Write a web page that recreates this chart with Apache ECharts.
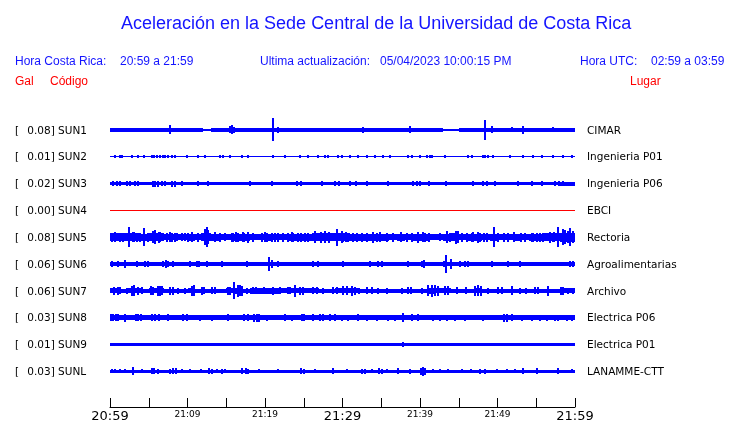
<!DOCTYPE html>
<html><head><meta charset="utf-8">
<script src="https://cdn.jsdelivr.net/npm/echarts@6/dist/echarts.min.js"></script>
<style>html,body{margin:0;padding:0;background:#fff}#c{width:740px;height:423px}</style>
</head><body><div id="c"></div><script>
// ---------- data ----------
const tickLabels = ['20:59','21:04','21:09','21:14','21:19','21:24','21:29','21:34','21:39','21:44','21:49','21:54','21:59'];
const stationCodes = ['SUN1','SUN2','SUN3','SUN4','SUN5','SUN6','SUN7','SUN8','SUN9','SUNL'];
const peakGal = ['0.08','0.01','0.02','0.00','0.08','0.06','0.06','0.03','0.01','0.03'];
const places = ['CIMAR','Ingenieria P01','Ingenieria P06','EBCI','Rectoria','Agroalimentarias','Archivo','Electrica P06','Electrica P01','LANAMME-CTT'];

// envelope half-amplitude per minute (body) and short bursts [minute, half-amplitude]
const sun1Body = [1.7,1.7,1.7,1.7,1.7,1.7,1.7,1.7,1.7,1.7, 1.7,1.7,0.9,1.7,1.7,1.7,1.7,1.7,1.7,1.7, 1.7,1.7,1.7,1.7,1.7,1.7,1.7,1.7,1.7,1.7, 1.7,1.7,1.7,1.7,1.7,1.7,1.7,1.7,1.7,1.7, 1.7,1.7,1.7,0.9,0.9,1.7,1.7,1.7,1.7,1.7, 1.7,1.7,1.7,1.7,1.7,1.7,1.7,1.7,1.8,1.8];
const sun1Peaks = [[1.85,2.3],[6.0,2],[7.7,4.5],[8.9,2.3],[9.7,2],[10.3,2],[13.1,2],[14.4,2],[15.5,3.5],[15.8,4.5],[16.0,3],[19.0,2],[21.07,11.5],[21.7,3],[22.8,2],[24.1,2],[26.2,2],[29.0,1.8],[31.2,2.2],[31.6,2.2],[32.6,3],[36.6,2],[38.7,3.5],[41.3,2],[48.4,10],[49.3,3.5],[51.9,2.5],[53.3,4],[55.9,2],[57.1,2.5],[59.4,2.2]];

const sun2Body = [0.5,0.5,0.5,0.5,0.5,0.5,0.5,0.5,0.5,0.5, 0.5,0.5,0.5,0.5,0.5,0.5,0.5,0.5,0.5,0.5, 0.5,0.5,0.5,0.5,0.5,0.5,0.5,0.5,0.5,0.5, 0.5,0.5,0.5,0.5,0.5,0.5,0.5,0.5,0.5,0.5, 0.5,0.5,0.5,0.5,0.5,0.5,0.5,0.5,0.5,0.5, 0.5,0.5,0.5,0.5,0.5,0.5,0.5,0.5,0.5,0.5];
const sun2Peaks = [[0.65,1.7],[1.29,1.7],[1.5,1.7],[2.8,1.7],[3.65,1.7],[4.43,1.7],[5.38,1.7],[5.7,1.7],[6.02,1.7],[6.45,1.7],[6.88,1.7],[7.1,1.7],[7.53,1.7],[7.96,1.7],[8.39,1.7],[9.89,1.7],[11.4,1.7],[12.26,1.7],[14.19,1.7],[14.62,1.7],[15.48,1.7],[16.99,1.7],[17.85,1.7],[21.07,1.7],[22.58,1.7],[24.52,1.7],[25.59,1.7],[26.88,1.7],[27.74,1.7],[28.17,1.7],[29.46,1.7],[29.9,1.7],[30.97,1.7],[32.05,1.7],[33.12,1.7],[34.2,1.7],[35.27,1.7],[36.13,1.7],[38.5,1.7],[38.93,1.7],[40.0,1.7],[40.86,1.7],[41.29,1.7],[41.51,1.7],[43.23,1.7],[46.24,1.7],[46.67,1.7],[48.09,1.7],[48.39,1.7],[48.82,1.7],[49.46,1.7],[51.62,1.7],[53.25,1.7],[54.63,1.7],[55.79,1.7],[57.21,1.7],[58.41,1.7],[59.57,1.7]];

const sun3Body = [1.7,1.7,1.7,1.7,1.7,1.7,1.7,1.7,1.7,1.7, 1.7,1.7,1.7,1.7,1.7,1.7,1.7,1.7,1.7,1.7, 1.7,1.7,1.7,1.7,1.7,1.7,1.7,1.7,1.7,1.7, 1.7,1.7,1.7,1.7,1.7,1.7,1.7,1.7,1.7,1.7, 1.7,1.7,1.7,1.7,1.7,1.7,1.7,1.7,1.7,1.7, 1.7,1.7,1.7,1.7,1.7,1.7,1.7,1.8,2.0,2.0];
const sun3Peaks = [[0.4,2.7],[0.85,2.7],[1.3,2.7],[2.15,2.7],[2.6,2.5],[3.2,2.5],[3.65,2.5],[5.6,3],[5.8,3],[6.2,3],[6.7,2.7],[7.1,2.7],[8.0,3],[8.4,3],[9.3,2.5],[11.4,2.3],[12.7,2.3],[18.1,2.3],[20.9,2.3],[24.1,2.3],[24.7,2.7],[27.3,2.3],[29.0,2.3],[29.5,2.3],[31.0,2.5],[31.8,2.3],[33.1,2.5],[35.9,2.3],[39.1,2.5],[39.6,2.5],[40.0,2.5],[41.1,2.3],[43.4,2.5],[46.9,2.3],[48.1,2.5],[48.6,2.3],[49.7,2.5],[52.7,2.3],[54.5,2.5],[55.8,2.5],[57.4,2.5],[57.9,2.5],[58.4,2.5]];

const sun4Body = [0,0,0,0,0,0,0,0,0,0, 0,0,0,0,0,0,0,0,0,0, 0,0,0,0,0,0,0,0,0,0, 0,0,0,0,0,0,0,0,0,0, 0,0,0,0,0,0,0,0,0,0, 0,0,0,0,0,0,0,0,0,0];
const sun4Peaks = [];

const sun5Body = [3.8,3.8,3.8,3.8,3.6,3.8,3.8,3.3,3.3,3.3, 3.5,3.3,3.8,3.5,3.3,3.3,3.4,3.5,3.3,3.3, 3.4,3.3,3.3,3.4,3.4,3.4,4.0,4.0,4.0,4.0, 3.8,3.6,3.6,3.6,3.6,3.4,3.3,3.4,3.3,3.6, 3.4,3.1,3.1,3.6,3.8,3.3,3.4,3.6,3.3,3.6, 3.3,3.3,3.4,3.3,3.4,3.4,3.8,4.3,4.6,4.6];
const sun5Peaks = [[0.22,4.5],[0.65,4.8],[1.29,4.5],[1.72,4.5],[2.5,10],[3.0,5],[3.14,4.8],[3.44,4.5],[3.87,4.5],[4.43,9],[4.95,4.5],[5.6,6],[5.8,7],[6.3,5.5],[6.45,4.8],[7.31,4.5],[7.7,5],[7.96,4.5],[8.4,4.5],[8.6,4.3],[9.25,4.3],[9.7,4],[10.11,4.5],[10.62,5],[11.4,4.5],[11.83,4.3],[12.3,8],[12.5,10],[12.7,7],[13.55,5],[14.19,4.5],[14.84,4.3],[15.7,4.5],[15.9,4.5],[16.2,4.8],[16.56,4.5],[17.2,5],[17.33,4.5],[17.85,5.5],[18.5,4.5],[19.57,4.5],[20.0,5],[20.2,4.5],[20.86,4.5],[21.3,4.5],[21.72,4.5],[22.36,4.5],[23.01,4.5],[23.5,5],[23.66,4.5],[24.3,4.5],[24.7,4.5],[25.16,4.5],[25.59,4.5],[26.5,6],[27.2,5.5],[27.8,6],[28.3,5.5],[29.25,8.5],[29.9,6],[30.11,4.5],[30.5,5],[30.76,4.5],[31.4,4.5],[31.83,4.5],[32.48,4.5],[33.12,4.5],[33.9,5.5],[34.41,4.5],[34.8,5],[35.7,4.5],[36.56,4.5],[37.5,5],[38.28,4.5],[38.93,4.5],[39.8,5.5],[40.4,5],[40.65,4.5],[41.2,4.5],[42.58,4.3],[43.5,6],[43.87,4.5],[44.6,6.5],[44.9,6],[45.38,4.5],[46.02,4.5],[46.67,4.5],[46.9,5],[47.5,5.5],[47.74,4.5],[48.2,4.5],[48.61,4.5],[49.5,10],[50.11,4.5],[50.8,4.5],[51.4,4.5],[52.1,5],[53.0,4.5],[53.55,4.5],[54.41,4.5],[54.6,4.5],[55.06,4.5],[55.5,4.5],[55.92,4.5],[56.8,5.5],[57.21,4.5],[57.3,5],[57.8,10],[58.4,8],[58.7,7],[59.14,6],[59.4,9],[59.8,6]];

const sun6Body = [1.7,1.7,1.7,1.7,1.7,1.7,1.7,1.7,1.7,1.7, 1.7,1.7,1.7,1.7,1.7,1.7,1.7,1.7,1.7,1.7, 1.7,1.7,1.7,1.7,1.7,1.7,1.7,1.7,1.7,1.7, 1.7,1.7,1.7,1.7,1.7,1.7,1.7,1.7,1.7,1.7, 1.7,1.7,1.7,1.7,1.7,1.7,1.7,1.7,1.7,1.7, 1.7,1.7,1.7,1.7,1.7,1.7,1.7,1.7,1.8,1.8];
const sun6Peaks = [[0.2,3],[1.07,3],[1.93,4],[2.58,2.5],[3.53,3],[4.5,3],[4.95,3],[5.6,2.5],[6.0,2.5],[6.88,3.5],[7.18,4],[7.53,3],[8.17,3],[9.25,2.5],[10.32,3],[11.18,3],[11.48,3],[12.47,3],[13.33,2.5],[14.41,3],[15.27,2.5],[16.34,2.5],[17.63,3.5],[18.28,2.5],[19.14,2.5],[20.52,7],[20.86,4],[21.72,3],[22.58,2.5],[23.23,2.5],[26.24,3],[26.88,3],[27.31,2.5],[28.39,2.5],[29.03,2.5],[30.11,3],[31.19,2.5],[31.83,2],[32.35,2.5],[33.55,3.5],[34.63,3],[35.06,3],[35.49,2.5],[36.13,2.5],[37.42,2.5],[38.5,3],[40.22,3.5],[40.52,4],[41.51,2.5],[42.15,2.5],[43.1,3.5],[43.36,9],[43.96,5],[45.16,3],[45.81,3],[46.24,3.5],[47.31,2.5],[48.26,2.5],[49.25,3.5],[51.4,3.5],[52.91,3.5],[53.98,2.5],[55.27,2.5],[56.56,2.5],[58.07,2.5],[59.36,3],[59.79,3]];

const sun7Body = [2.5,2.3,2.5,2.5,2.2,2.5,2.6,2.3,2.3,2.2, 2.5,2.3,2.2,2.3,2.2,2.5,2.8,2.2,2.8,2.8, 2.8,2.8,2.7,2.5,2.6,2.5,2.5,2.2,2.3,2.5, 2.7,2.5,2.2,2.3,2.2,2.3,2.2,2.3,2.3,2.2, 2.3,2.8,2.7,2.5,2.3,2.3,2.2,2.7,2.3,2.3, 2.3,2.3,2.3,2.2,2.3,2.3,2.3,2.3,2.5,2.5];
const sun7Peaks = [[0.56,4],[0.99,4],[1.29,3.5],[2.15,3],[2.8,5],[3.05,5.5],[3.66,4],[4.09,3.5],[5.29,4.5],[5.59,4],[6.15,5],[6.45,5],[6.75,4.5],[7.74,4],[8.17,4],[8.82,3],[9.68,3],[10.62,5],[10.88,5.5],[11.83,4],[12.17,3.5],[13.12,3.5],[13.55,3.5],[15.18,4],[15.48,4],[16.04,8.5],[16.47,6],[16.77,5.5],[17.07,5],[17.63,3],[18.5,3.5],[18.8,3.5],[19.91,3.5],[21.08,4],[21.94,3.5],[22.92,3.5],[23.23,3.5],[23.87,6],[24.52,4],[24.95,4],[26.24,3.5],[26.67,3.5],[27.53,3],[28.82,3.5],[29.25,3.5],[30.11,4.5],[30.63,4.5],[31.19,5],[31.62,4],[32.17,3],[33.12,3.5],[33.77,3.5],[34.63,3],[35.7,3],[37.64,3],[38.5,3.5],[38.8,3.5],[40.22,3],[41.08,5.5],[41.51,6],[41.94,5.5],[42.37,5],[43.23,4.5],[43.66,4.5],[44.73,3.5],[45.94,3.5],[47.1,5],[47.53,5.5],[47.83,5],[48.82,3],[50.11,3.5],[50.54,3.5],[51.83,4.5],[52.91,3],[53.68,3],[54.84,3.5],[55.27,3.5],[56.56,5],[58.15,4],[58.41,4],[59.14,3],[59.7,3]];

const sun8Body = [2.5,2.5,2.5,2.5,2.5,2.5,2.5,2.5,2.5,2.5, 2.5,2.5,2.5,2.5,2.5,2.5,2.5,2.5,2.5,2.5, 2.5,2.5,2.5,2.5,2.5,2.5,2.5,2.5,2.5,2.5, 2.5,2.5,2.5,2.5,2.5,2.5,2.5,2.5,2.5,2.5, 2.5,2.5,2.5,2.5,2.5,2.5,2.5,2.5,2.5,2.5, 2.5,2.5,2.5,2.5,2.5,2.5,2.5,2.5,2.5,2.5];
const sun8Peaks = [[0.13,3.5],[0.43,3.5],[0.73,3.5],[1.07,3.5],[1.93,4],[3.31,3.5],[3.66,3.5],[4.0,3.5],[5.46,3.5],[5.81,3.5],[6.32,3.5],[7.53,3.5],[9.46,3.5],[9.89,3.5],[11.61,3],[13.12,3],[15.27,3.5],[17.33,3.5],[17.76,3.5],[18.62,4],[18.92,4],[19.23,4],[20.22,3],[22.58,3.5],[23.44,3],[24.73,3.5],[25.07,3.5],[26.24,3.5],[27.1,3.5],[27.53,3.5],[28.39,3.5],[29.03,3.5],[29.9,3],[30.76,3],[32.05,3.5],[33.12,3],[34.41,3],[35.92,3],[36.78,3],[37.85,4.5],[38.93,3.5],[39.79,3.5],[41.72,3],[42.58,3],[43.44,3],[44.52,3],[45.81,3],[48.17,3],[50.84,4],[51.19,4],[51.83,3.5],[53.12,3],[54.41,3],[55.49,3],[56.35,3],[57.42,3],[57.85,3],[58.93,3],[59.57,3]];

const sun9Body = [1.5,1.5,1.5,1.5,1.5,1.5,1.5,1.5,1.5,1.5, 1.5,1.5,1.5,1.5,1.5,1.5,1.5,1.5,1.5,1.5, 1.5,1.5,1.5,1.5,1.5,1.5,1.5,1.5,1.5,1.5, 1.5,1.5,1.5,1.5,1.5,1.5,1.5,1.5,1.5,1.5, 1.5,1.5,1.5,1.5,1.5,1.5,1.5,1.5,1.5,1.5, 1.5,1.5,1.5,1.5,1.5,1.5,1.5,1.5,1.5,1.5];
const sun9Peaks = [[3.2,1.7],[7.5,1.7],[11.0,1.7],[16.0,1.7],[20.0,1.7],[26.0,1.7],[31.0,1.7],[34.5,1.7],[37.85,2.5],[41.5,1.7],[44.0,1.7],[48.5,1.7],[52.0,1.7],[56.0,1.7]];

const sunLBody = [1.5,1.5,1.5,1.5,1.5,1.5,1.5,1.5,1.5,1.5, 1.5,1.5,1.5,1.5,1.5,1.5,1.5,1.5,1.5,1.5, 1.5,1.5,1.5,1.5,1.5,1.5,1.5,1.5,1.5,1.5, 1.5,1.5,1.5,1.5,1.5,1.5,1.5,1.5,1.5,1.5, 1.5,1.5,1.5,1.5,1.5,1.5,1.5,1.5,1.5,1.5, 1.5,1.5,1.5,1.5,1.5,1.5,1.5,1.5,1.5,1.5];
const sunLPeaks = [[0.22,2],[0.65,2],[1.29,2],[1.93,2],[3.01,4],[4.09,2],[5.38,3],[5.72,3],[6.24,2.5],[7.74,2.5],[8.17,3],[8.52,3],[9.25,2],[10.32,2],[11.74,2],[12.77,3],[13.12,2.5],[13.76,2],[14.41,2.5],[14.84,2],[17.07,3],[17.5,3],[17.85,2.5],[19.23,2],[21.72,2],[24.65,3],[25.07,2.5],[26.45,2],[28.82,3],[30.54,2],[32.48,2.5],[32.91,2.5],[33.77,2],[34.76,3],[35.06,2.5],[35.7,2],[37.21,3],[38.71,2.5],[40.09,3.5],[40.35,4.5],[40.65,3.5],[41.72,2],[42.58,2],[43.66,2],[45.38,2],[46.54,2],[47.75,2.5],[48.39,2.5],[49.9,2],[51.19,2],[52.26,2],[53.25,3],[55.06,3],[57.85,3],[59.57,2]];

// ---------- chart ----------
const bodies = [sun1Body,sun2Body,sun3Body,sun4Body,sun5Body,sun6Body,sun7Body,sun8Body,sun9Body,sunLBody];
const peaks  = [sun1Peaks,sun2Peaks,sun3Peaks,sun4Peaks,sun5Peaks,sun6Peaks,sun7Peaks,sun8Peaks,sun9Peaks,sunLPeaks];
const ROW = 27;
const BLUE = '#0000ff', RED = '#ff0000';
const HEAD = '#1414ff';

const series = bodies.map((body, row) => {
  const data = [];
  body.forEach((a, i) => data.push([i, i + 1, a, 0]));
  peaks[row].forEach(p => data.push([p[0], p[0], p[1], 1]));
  const color = parseFloat(peakGal[row]) === 0 ? RED : BLUE;
  return {
    type: 'custom', coordinateSystem: 'cartesian2d', silent: true, clip: false,
    encode: { x: [0, 1], y: 2 },
    renderItem: (params, api) => {
      const base = -ROW * row, a = api.value(2);
      const top = api.coord([api.value(0), base + a]);
      const bot = api.coord([api.value(1), base - a]);
      let x0 = Math.round(top[0]), x1 = Math.round(bot[0]);
      if (api.value(3) === 1) { x0 = Math.round(top[0] - 1); x1 = x0 + 2; }
      let y0, y1;
      if (a === 0) { y0 = Math.floor(top[1]); y1 = y0 + 1; }
      else { y0 = Math.round(top[1] + 1e-6); y1 = Math.round(bot[1] + 1e-6); if (y1 <= y0) y1 = y0 + 1; }
      return { type: 'rect', shape: { x: x0, y: y0, width: x1 - x0, height: y1 - y0 }, style: { fill: color } };
    },
    data: data
  };
});

const chart = echarts.init(document.getElementById('c'), null, { renderer: 'canvas' });
chart.setOption({
  animation: false,
  backgroundColor: '#fff',
  grid: { left: 110, right: 165, top: 116.5, bottom: 14 },
  xAxis: {
    type: 'value', min: 0, max: 60, interval: 5,
    axisLine: { onZero: false, lineStyle: { color: '#000', width: 1 } },
    axisTick: { inside: true, length: 9, lineStyle: { color: '#000', width: 1 } },
    splitLine: { show: false },
    axisLabel: {
      margin: 3, color: '#000', fontFamily: 'DejaVu Sans',
      showMinLabel: true, showMaxLabel: true,
      formatter: v => {
        const i = Math.round(v / 5);
        if (i % 2) return '';
        return (i % 6 === 0 ? '{big|' : '{small|') + tickLabels[i] + '}';
      },
      rich: {
        big: { fontSize: 13, fontFamily: 'DejaVu Sans', color: '#000' },
        small: { fontSize: 9, fontFamily: 'DejaVu Sans', color: '#000' }
      }
    }
  },
  yAxis: { type: 'value', min: -10.3333 * ROW, max: 0.5 * ROW, show: false },
  series: series
});

function txt(x, y, text, color, size, family, align) {
  return { type: 'text', x: x, y: y, silent: true,
    style: { text: text, fill: color, fontSize: size, fontFamily: family, align: align || 'left', verticalAlign: 'middle' } };
}
const g = [];
const SANS = 'Liberation Sans';
g.push(txt(121, 24, 'Aceleración en la Sede Central de la Universidad de Costa Rica', HEAD, 18, SANS));
g.push(txt(15, 62, 'Hora Costa Rica:', HEAD, 12, SANS));
g.push(txt(120, 62, '20:59 a 21:59', HEAD, 12, SANS));
g.push(txt(260, 62, 'Ultima actualización:', HEAD, 12, SANS));
g.push(txt(380, 62, '05/04/2023 10:00:15 PM', HEAD, 12, SANS));
g.push(txt(580, 62, 'Hora UTC:', HEAD, 12, SANS));
g.push(txt(651, 62, '02:59 a 03:59', HEAD, 12, SANS));
g.push(txt(15, 82, 'Gal', RED, 12, SANS));
g.push(txt(50, 82, 'Código', RED, 12, SANS));
g.push(txt(630, 82, 'Lugar', RED, 12, SANS));
stationCodes.forEach((code, i) => {
  const p = chart.convertToPixel({ xAxisIndex: 0, yAxisIndex: 0 }, [0, -ROW * i]);
  const q = chart.convertToPixel({ xAxisIndex: 0, yAxisIndex: 0 }, [60, -ROW * i]);
  g.push(txt(15, p[1] + 1, '[', '#000', 10.5, 'DejaVu Sans'));
  g.push(txt(27.3, p[1] + 1, peakGal[i] + '] ' + code, '#000', 10.5, 'DejaVu Sans'));
  g.push(txt(q[0] + 12, p[1] + 1, places[i], '#000', 10.5, 'DejaVu Sans'));
});
chart.setOption({ graphic: g });
</script></body></html>
